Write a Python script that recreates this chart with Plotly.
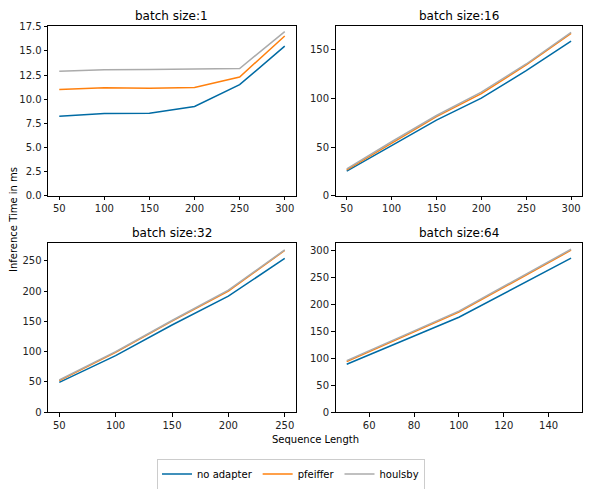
import plotly.graph_objects as go

series_names = ["no adapter", "pfeiffer", "houlsby"]
colors = ["#006BA4", "#FF800E", "#ABABAB"]

titles = ["batch size:1", "batch size:16", "batch size:32", "batch size:64"]

seq_bs1 = [50, 100, 150, 200, 250, 300]
bs1 = {
    "no adapter": [8.24, 8.52, 8.55, 9.24, 11.5, 15.5],
    "pfeiffer": [10.99, 11.18, 11.12, 11.2, 12.3, 16.55],
    "houlsby": [12.9, 13.06, 13.07, 13.1, 13.18, 17.0],
}

seq_bs16 = [50, 100, 150, 200, 250, 300]
bs16 = {
    "no adapter": [25.3, 51.8, 77.8, 100.3, 128.6, 159.0],
    "pfeiffer": [26.6, 54.3, 81.3, 105.1, 134.5, 167.0],
    "houlsby": [27.5, 55.5, 82.5, 106.5, 135.5, 168.0],
}

seq_bs32 = [50, 100, 150, 200, 250]
bs32 = {
    "no adapter": [49.4, 93.4, 144.0, 191.7, 253.8],
    "pfeiffer": [52.2, 98.9, 150.5, 200.0, 267.0],
    "houlsby": [53.5, 100.0, 151.5, 201.5, 268.0],
}

seq_bs64 = [50, 100, 150]
bs64 = {
    "no adapter": [89.3, 176.6, 286.4],
    "pfeiffer": [94.2, 186.0, 301.2],
    "houlsby": [96.0, 188.0, 303.0],
}

panels = [(seq_bs1, bs1), (seq_bs16, bs16), (seq_bs32, bs32), (seq_bs64, bs64)]

W, H = 590, 489

def px_x(a, b):
    return [a / W, b / W]

def px_y(top, bottom):
    return [(H - bottom) / H, (H - top) / H]

domains = [
    (px_x(48, 296), px_y(26, 195.7)),
    (px_x(335.5, 582.3), px_y(26, 195.7)),
    (px_x(48, 296), px_y(243.3, 412.3)),
    (px_x(335.5, 582.3), px_y(243.3, 412.3)),
]

xranges = [[37.5, 312.5], [37.5, 312.5], [40, 260], [45, 155]]
yranges = [[0, 17.58], [0, 174.6], [0, 278.8], [0, 314.0]]
ydticks = [2.5, 50, 50, 50]
xdticks = [50, 50, 50, 20]
ytickformats = [".1f", "d", "d", "d"]

fig = go.Figure()

for i, (seq, data) in enumerate(panels):
    suffix = "" if i == 0 else str(i + 1)
    for name, col in zip(series_names, colors):
        fig.add_trace(go.Scatter(
            x=seq, y=data[name], mode="lines", name=name,
            line=dict(color=col, width=1.5),
            xaxis="x" + suffix, yaxis="y" + suffix,
            showlegend=(i == 0), legendgroup=name,
        ))

axis_common = dict(
    showline=True, linecolor="black", linewidth=0.8, mirror=True,
    ticks="outside", ticklen=3.5, tickwidth=0.8, tickcolor="black",
    showgrid=False, zeroline=False, automargin=False,
    tickfont=dict(family="DejaVu Sans", size=10, color="#222"),
)

layout = {}
for i in range(4):
    suffix = "" if i == 0 else str(i + 1)
    xd, yd = domains[i]
    layout["xaxis" + suffix] = dict(
        domain=xd, anchor="y" + suffix, range=xranges[i],
        dtick=xdticks[i], tick0=0, **axis_common)
    layout["yaxis" + suffix] = dict(
        domain=yd, anchor="x" + suffix, range=yranges[i],
        dtick=ydticks[i], tick0=0, tickformat=ytickformats[i], **axis_common)

annotations = []
for i in range(4):
    xd, yd = domains[i]
    annotations.append(dict(
        text=titles[i], x=(xd[0] + xd[1]) / 2, y=yd[1] + 1 / H,
        xref="paper", yref="paper", xanchor="center", yanchor="bottom",
        showarrow=False, font=dict(family="DejaVu Sans", size=12, color="black"),
    ))
annotations.append(dict(
    text="Inference Time in ms", x=13 / W, y=(H - 220) / H,
    xref="paper", yref="paper", xanchor="center", yanchor="middle",
    textangle=-90, showarrow=False,
    font=dict(family="DejaVu Sans", size=10, color="black"),
))
annotations.append(dict(
    text="Sequence Length", x=315 / W, y=(H - 439) / H,
    xref="paper", yref="paper", xanchor="center", yanchor="middle",
    showarrow=False, font=dict(family="DejaVu Sans", size=10, color="black"),
))

fig.update_layout(
    width=W, height=H,
    margin=dict(l=0, r=0, t=0, b=0, autoexpand=False),
    paper_bgcolor="white", plot_bgcolor="white",
    annotations=annotations,
    legend=dict(
        orientation="h", x=291 / W, y=(H - 474) / H,
        xanchor="center", yanchor="middle",
        bordercolor="#cccccc", borderwidth=1,
        font=dict(family="DejaVu Sans", size=10, color="black"),
        itemwidth=30,
    ),
    **layout,
)

fig.write_html("out.html",
               config={"displayModeBar": False},
               post_script="document.body.style.margin='0';document.body.style.padding='0';")
